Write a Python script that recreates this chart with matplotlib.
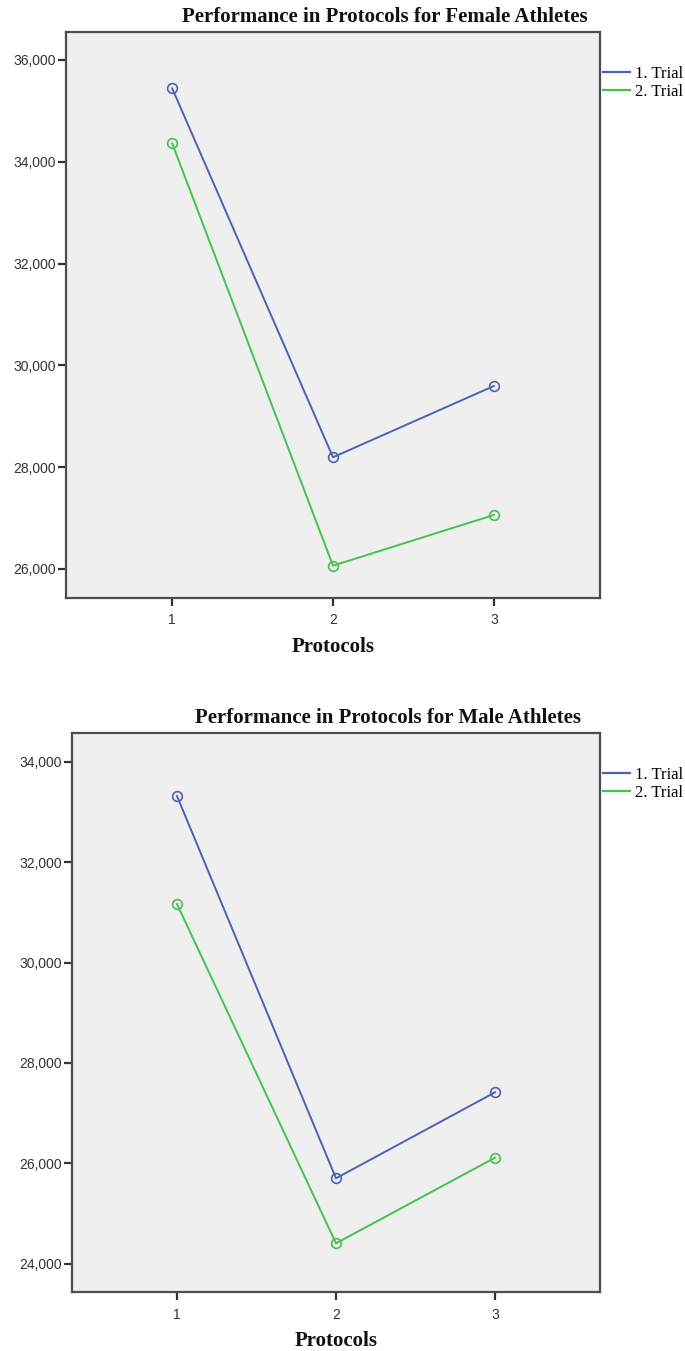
import matplotlib
matplotlib.use("Agg")
import matplotlib.pyplot as plt
from matplotlib.ticker import FuncFormatter

protocols = [1, 2, 3]
female_trial1 = [35444, 28195, 29595]
female_trial2 = [34363, 26065, 27061]
male_trial1 = [33317, 25701, 27414]
male_trial2 = [31165, 24406, 26112]
series_labels = ["1. Trial", "2. Trial"]
female_yticks = [26000, 28000, 30000, 32000, 34000, 36000]
male_yticks = [24000, 26000, 28000, 30000, 32000, 34000]
titles = ["Performance in Protocols for Female Athletes",
          "Performance in Protocols for Male Athletes"]

W, H = 685, 1351
fig = plt.figure(figsize=(W / 100, H / 100), dpi=100)
fig.patch.set_facecolor("white")

BLUE = "#4A62B8"
GREEN = "#45C24F"
SPINE = "#4d4d4d"

def px_axes(l, t, r, b):
    return fig.add_axes([l / W, 1 - b / H, (r - l) / W, (b - t) / H])

def fmt(v, _):
    return f"{int(round(v)):,}"

panels = [
    dict(box=(66, 31.7, 600, 598), ylim=(25430, 36556), yticks=female_yticks,
         t1=female_trial1, t2=female_trial2, title=titles[0], title_xy=(385, 17),
         xlabel_y=647, leg_top=66),
    dict(box=(72, 733.3, 600, 1292.3), ylim=(23430, 34566), yticks=male_yticks,
         t1=male_trial1, t2=male_trial2, title=titles[1], title_xy=(388, 718),
         xlabel_y=1341, leg_top=767),
]

for p in panels:
    l, t, r, b = p["box"]
    ax = px_axes(l, t, r, b)
    ax.set_facecolor("#EFEFEF")
    ax.plot(protocols, p["t1"], color=BLUE, lw=1.4, marker="o", ms=7,
            mfc="none", mec=BLUE, mew=1.2, label=series_labels[0])
    ax.plot(protocols, p["t2"], color=GREEN, lw=1.4, marker="o", ms=7,
            mfc="none", mec=GREEN, mew=1.2, label=series_labels[1])
    ax.set_xlim(0.34, 3.66)
    ax.set_ylim(*p["ylim"])
    ax.set_xticks(protocols)
    ax.set_yticks(p["yticks"])
    ax.yaxis.set_major_formatter(FuncFormatter(fmt))
    for s in ax.spines.values():
        s.set_color(SPINE)
        s.set_linewidth(1.6)
    ax.tick_params(axis="both", direction="out", length=6, width=1.6,
                   color="#333333", labelsize=10, labelcolor="#333333",
                   labelfontfamily="Liberation Sans", pad=1)
    ax.tick_params(axis="x", pad=5)
    leg_y = 1 - (p["leg_top"] - t) / (b - t)
    leg = ax.legend(loc="upper left", bbox_to_anchor=((603 - l) / (r - l), leg_y),
                    frameon=False, handlelength=1.6,
                    handletextpad=0.3, labelspacing=0.1, borderaxespad=0,
                    borderpad=0, prop={"family": "Liberation Serif", "size": 12})
    for line in leg.get_lines():
        line.set_marker("")
        line.set_linewidth(1.6)
    fig.text(p["title_xy"][0] / W, 1 - p["title_xy"][1] / H, p["title"],
             ha="center", va="center", fontsize=15, fontweight="bold",
             family="Liberation Serif", color="#111111")
    fig.text(((l + r) / 2) / W, 1 - p["xlabel_y"] / H, "Protocols",
             ha="center", va="center", fontsize=15, fontweight="bold",
             family="Liberation Serif", color="#111111")

fig.savefig("out.png", dpi=100, facecolor="white")
